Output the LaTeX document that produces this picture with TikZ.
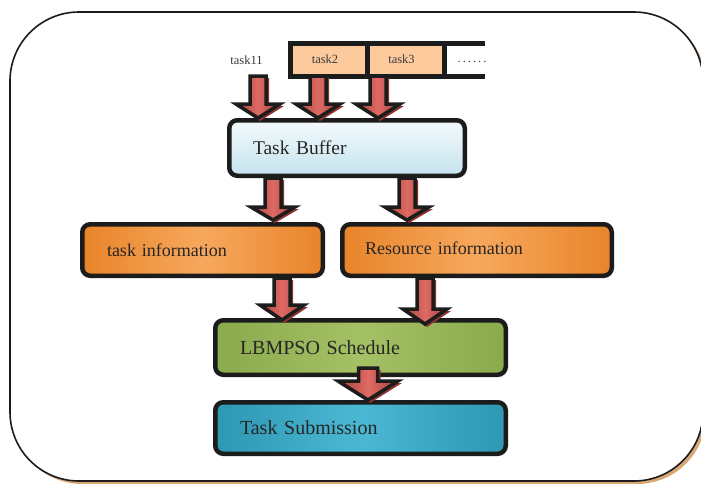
\documentclass[tikz,border=0pt]{standalone}
\usepackage{fontspec}
\setmainfont{Liberation Serif}
\usetikzlibrary{calc}
\pgfdeclarelayer{bg}
\pgfsetlayers{bg,main}
\definecolor{boxline}{HTML}{1C1C1C}
\definecolor{txt}{HTML}{262626}
\definecolor{txtsmall}{HTML}{3A3A3A}
\definecolor{peach}{HTML}{FDCA9D}
\definecolor{framesh}{HTML}{D9A676}
\definecolor{buftop}{HTML}{F4FAFC}
\definecolor{bufbot}{HTML}{C4E3EE}
\definecolor{bufsh}{HTML}{8FA6B1}
\definecolor{oredge}{HTML}{E8842A}
\definecolor{orcent}{HTML}{F7A85D}
\definecolor{orsh}{HTML}{B05A22}
\definecolor{gredge}{HTML}{8AAA4C}
\definecolor{grcent}{HTML}{A4C165}
\definecolor{grsh}{HTML}{66792F}
\definecolor{tledge}{HTML}{2E97B3}
\definecolor{tlcent}{HTML}{4BB8D3}
\definecolor{tlsh}{HTML}{22707F}
\definecolor{arlight}{HTML}{DE6A64}
\definecolor{ardark}{HTML}{A8403C}
\definecolor{arsh}{HTML}{8E3430}

\tikzset{
  box/.style={rounded corners=8pt, line width=4.5pt, draw=boxline, align=left, text=txt},
  bigtext/.style={font=\fontsize{20}{24}\selectfont},
  midtext/.style={font=\fontsize{19.5}{23}\selectfont},
  infotext/.style={font=\fontsize{18}{21}\selectfont},
  cell/.style={fill=peach, minimum width=77pt, minimum height=33pt, inner sep=0pt, outer sep=0pt,
    font=\fontsize{12.5}{14}\selectfont, text=txtsmall},
  lbl/.style={font=\fontsize{12.5}{14}\selectfont, text=txtsmall, inner sep=1pt},
  qline/.style={draw=boxline, line width=5pt},
  arrowbody/.style={draw=boxline, line width=3.5pt, line join=miter,
    left color=ardark, right color=ardark, middle color=arlight},
  arrowshadow/.style={fill=arsh},
  boxshadow/.style={rounded corners=9pt},
}

% #1 start, #2 tip, #3 shaft half width, #4 head half width, #5 head length
\newcommand{\flowarrow}[5]{%
  \fill[arrowshadow] let \p1=#1, \p2=#2 in
    (\x1-#3+3,\y1-2) -- (\x1+#3+3,\y1-2) -- (\x1+#3+3,\y2+#5-2) -- (\x1+#4+4,\y2+#5-2)
    -- (\x1+2,\y2-3) -- (\x1-#4,\y2+#5-2) -- (\x1-#3+3,\y2+#5-2) -- cycle;
  \path[arrowbody] let \p1=#1, \p2=#2 in
    (\x1-#3,\y1) -- (\x1+#3,\y1) -- (\x1+#3,\y2+#5) -- (\x1+#4,\y2+#5)
    -- (\x1,\y2) -- (\x1-#4,\y2+#5) -- (\x1-#3,\y2+#5) -- cycle;
}

\begin{document}
\begin{tikzpicture}[x=1pt,y=-1pt]
\useasboundingbox (0,0) rectangle (701,483);

% outer frame
\fill[framesh, rounded corners=69pt] (13,15) rectangle (706,484);
\filldraw[fill=white, draw=boxline, line width=1.6pt, rounded corners=69pt] (10,12) rectangle (703,481);

% queue
\node[lbl] (t11) at (246.5,60) {task11};
\node[cell] (q2) at (329,59.5) {\hspace*{-8pt}\raisebox{-4pt}{task2}};
\node[cell] (q3) at (406,59.5) {\hspace*{-9pt}\raisebox{-4pt}{task3}};
\node[lbl] (qd) at (472,62) {.\kern2pt.\kern2pt.\kern2pt.\kern2pt.\kern2pt.};
\draw[qline] (485,43) -- (q2.north west) -- (q2.south west) -- (485,76);
\draw[qline] (q2.north east) -- (q2.south east);
\draw[qline] (q3.north east) -- (q3.south east);

% boxes
\node[box, midtext, top color=buftop, bottom color=bufbot,
      text width=188pt, inner xsep=23.75pt, minimum height=55.5pt] (buf) at (347,148) {Task Buffer};
\node[box, infotext, left color=oredge, right color=oredge, middle color=orcent,
      text width=191pt, inner xsep=24.75pt, minimum height=51.5pt] (ti) at (202.5,250) {task information};
\node[box, infotext, left color=oredge, right color=oredge, middle color=orcent,
      text width=224pt, inner xsep=22.75pt, minimum height=51.5pt] (ri) at (477,250) {\raisebox{3pt}{Resource information}};
\node[box, bigtext, left color=gredge, right color=gredge, middle color=grcent,
      text width=241pt, inner xsep=24.75pt, minimum height=54.5pt] (lb) at (360.5,347.5) {LBMPSO Schedule};
\node[box, bigtext, left color=tledge, right color=tledge, middle color=tlcent,
      text width=241pt, inner xsep=24.75pt, minimum height=51.5pt] (ts) at (360.5,428) {Task Submission};

% box shadows
\begin{pgfonlayer}{bg}
  \fill[bufsh, boxshadow] ($(buf.north west)+(3,4)$) rectangle ($(buf.south east)+(3,4)$);
  \fill[orsh, boxshadow] ($(ti.north west)+(3,5)$) rectangle ($(ti.south east)+(3,5)$);
  \fill[orsh, boxshadow] ($(ri.north west)+(3,5)$) rectangle ($(ri.south east)+(3,5)$);
  \fill[grsh, boxshadow] ($(lb.north west)+(4,6)$) rectangle ($(lb.south east)+(4,6)$);
  \fill[tlsh, boxshadow] ($(ts.north west)+(4,5)$) rectangle ($(ts.south east)+(4,5)$);
\end{pgfonlayer}

% arrows
\flowarrow{(258,0 |- q2.south)}{(258,0 |- buf.north)}{8}{22}{14}
\flowarrow{(318,0 |- q2.south)}{(318,0 |- buf.north)}{8}{22}{14}
\flowarrow{(378,0 |- q3.south)}{(378,0 |- buf.north)}{8}{22}{14}
\flowarrow{(273,0 |- buf.south)}{($(273,0 |- ti.north)+(0,-2)$)}{8}{22}{13}
\flowarrow{(407,0 |- buf.south)}{($(407,0 |- ri.north)+(0,-2)$)}{8}{22}{13}
\flowarrow{(282,0 |- ti.south)}{($(282,0 |- lb.north)+(0,2)$)}{8}{22}{15}
\flowarrow{(425,0 |- ri.south)}{($(425,0 |- lb.north)+(0,6)$)}{8}{22}{15}
\flowarrow{($(368,0 |- lb.south)+(0,-9)$)}{(368,0 |- ts.north)}{9.5}{30}{19}
\end{tikzpicture}
\end{document}
